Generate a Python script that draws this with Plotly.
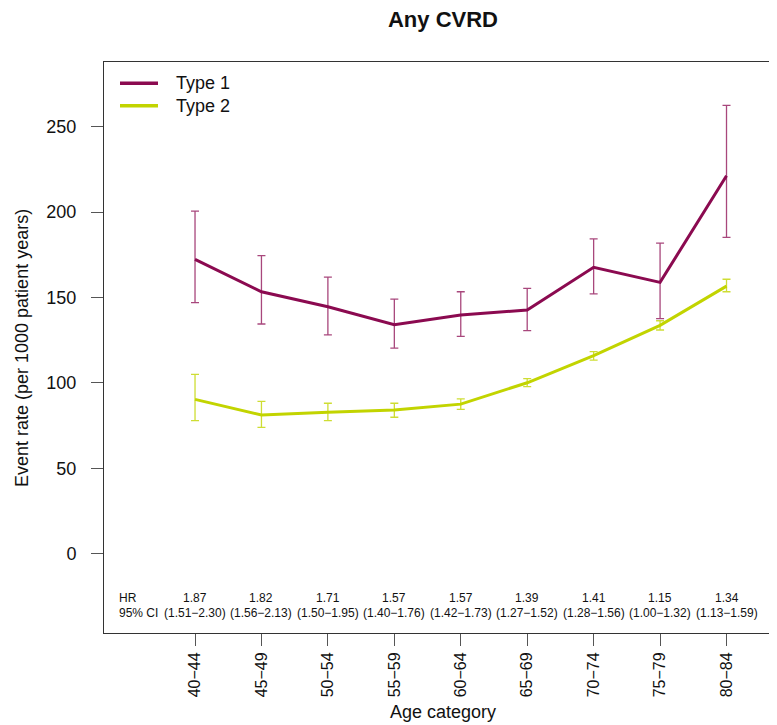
import plotly.graph_objects as go

categories = ["40−44", "45−49", "50−54", "55−59", "60−64", "65−69", "70−74", "75−79", "80−84"]

type1_rate = [172.4, 153.4, 144.6, 134.1, 139.8, 142.7, 167.7, 158.9, 221.3]
type1_upper = [200.6, 174.5, 162.0, 149.1, 153.4, 155.4, 184.4, 181.9, 262.5]
type1_lower = [147.0, 134.5, 128.2, 120.4, 127.3, 130.6, 152.2, 137.6, 185.2]

type2_rate = [90.4, 81.2, 82.8, 84.1, 87.6, 100.1, 116.0, 133.7, 156.7]
type2_upper = [105.0, 89.2, 88.1, 88.1, 90.7, 102.5, 118.3, 136.4, 160.7]
type2_lower = [77.9, 74.0, 77.9, 79.9, 84.5, 97.8, 113.4, 131.0, 153.4]

hr_values = ["1.87", "1.82", "1.71", "1.57", "1.57", "1.39", "1.41", "1.15", "1.34"]
hr_ci = ["(1.51−2.30)", "(1.56−2.13)", "(1.50−1.95)", "(1.40−1.76)", "(1.42−1.73)",
         "(1.27−1.52)", "(1.28−1.56)", "(1.00−1.32)", "(1.13−1.59)"]

y_ticks = [0, 50, 100, 150, 200, 250]
series_names = ["Type 1", "Type 2"]

c1 = "#8B0A50"
c2 = "#C2D400"
font = "Liberation Sans, Arial, sans-serif"

# page body has an 8px margin: figure drawn 8px in from top-left
W, H = 769, 717
ML, MT, MB = 96, 54, 92
PW, PH = W - ML, H - MT - MB

def px_x(x):
    return (x - 8 - ML) / PW

def px_y(y):
    return 1 - (y - 8 - MT) / PH

x_idx = list(range(len(categories)))

fig = go.Figure()
fig.add_trace(go.Scatter(
    x=x_idx, y=type1_rate, mode="lines", name=series_names[0], showlegend=False,
    line=dict(color=c1, width=3),
    error_y=dict(type="data", symmetric=False,
                 array=[u - r for u, r in zip(type1_upper, type1_rate)],
                 arrayminus=[r - l for r, l in zip(type1_rate, type1_lower)],
                 color="rgba(139,10,80,0.75)", thickness=1.3, width=4),
))
fig.add_trace(go.Scatter(
    x=x_idx, y=type2_rate, mode="lines", name=series_names[1], showlegend=False,
    line=dict(color=c2, width=3),
    error_y=dict(type="data", symmetric=False,
                 array=[u - r for u, r in zip(type2_upper, type2_rate)],
                 arrayminus=[r - l for r, l in zip(type2_rate, type2_lower)],
                 color="rgba(194,212,0,0.8)", thickness=1.3, width=4),
))

tf = dict(size=12, family=font, color="#111")
annotations = [
    dict(x=-1.18, y=-25.9, text="HR", xanchor="left", showarrow=False, font=tf),
    dict(x=-1.18, y=-34.8, text="95% CI", xanchor="left", showarrow=False, font=tf),
]
for i, (h, ci) in enumerate(zip(hr_values, hr_ci)):
    annotations.append(dict(x=i, y=-25.9, text=h, showarrow=False, font=tf))
    annotations.append(dict(x=i, y=-34.8, text=ci, showarrow=False, font=tf))

# axis titles
annotations.append(dict(xref="paper", yref="paper", x=px_x(443), y=px_y(712),
                        text="Age category", showarrow=False, xanchor="center",
                        yanchor="middle", font=dict(size=18, family=font, color="#111")))
annotations.append(dict(xref="paper", yref="paper", x=px_x(22), y=px_y(348),
                        text="Event rate (per 1000 patient years)", textangle=-90,
                        showarrow=False, xanchor="center", yanchor="middle",
                        font=dict(size=18, family=font, color="#111")))

# legend
shapes = []
for k, (name, col) in enumerate(zip(series_names, [c1, c2])):
    yy = px_y(83.3 + 22.4 * k)
    shapes.append(dict(type="line", xref="paper", yref="paper",
                       x0=px_x(120), x1=px_x(158), y0=yy, y1=yy,
                       line=dict(color=col, width=3.5)))
    annotations.append(dict(xref="paper", yref="paper", x=px_x(174), y=yy,
                            text=name, showarrow=False, xanchor="left", yanchor="middle",
                            font=dict(size=18, family=font, color="#111")))

fig.update_layout(
    width=W, height=H,
    margin=dict(l=ML, r=0, t=MT, b=MB, autoexpand=False),
    paper_bgcolor="white", plot_bgcolor="white",
    font=dict(family=font, color="#111", size=18),
    title=dict(text="<b>Any CVRD</b>", xref="container", yref="container",
               x=(443 - 8) / W, y=1 - (19 - 8) / H, xanchor="center", yanchor="middle",
               font=dict(size=22, family=font, color="#111")),
    showlegend=False,
    annotations=annotations,
    shapes=shapes,
    xaxis=dict(
        range=[-1.37, 8.76], tickmode="array", tickvals=x_idx, ticktext=categories,
        tickangle=-90, ticks="outside", ticklen=12, tickcolor="#555",
        showgrid=False, zeroline=False, showline=True, linecolor="#333",
        linewidth=1, mirror=True, tickfont=dict(size=16),
        ticklabelstandoff=0, automargin=False,
    ),
    yaxis=dict(
        range=[-46.4, 287.9], tickmode="array", tickvals=y_ticks,
        ticks="outside", ticklen=12, tickcolor="#555",
        showgrid=False, zeroline=False, showline=True, linecolor="#333",
        linewidth=1, mirror=False, tickfont=dict(size=18),
        ticklabelstandoff=11, automargin=False,
    ),
)

fig.write_html("out.html")
